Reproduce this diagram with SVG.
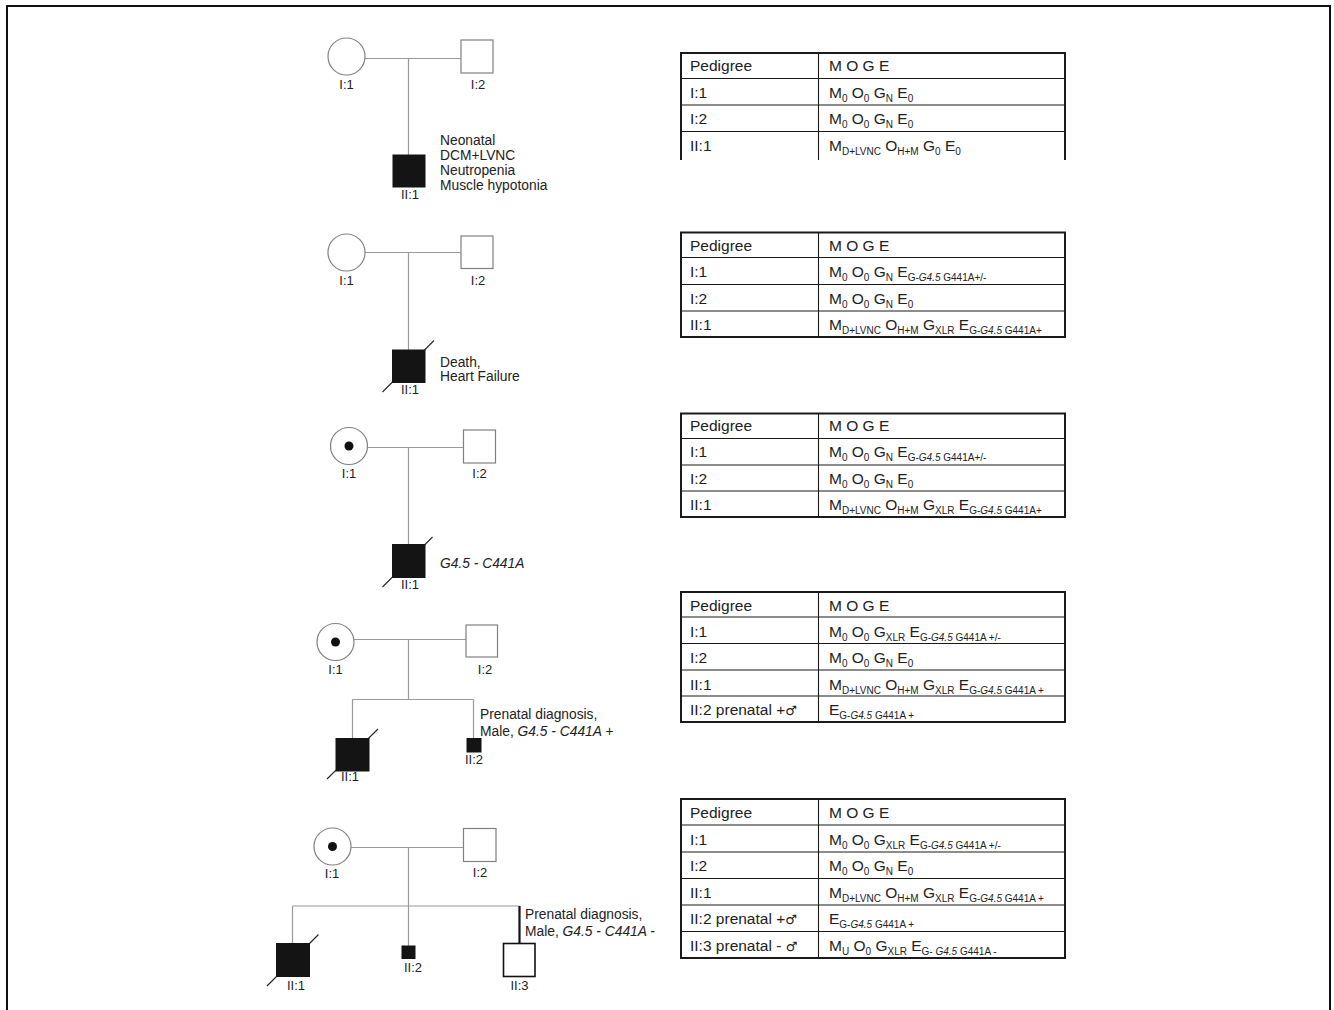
<svg xmlns="http://www.w3.org/2000/svg" width="1334" height="1010" viewBox="0 0 1334 1010">
<style>
text{font-family:"Liberation Sans",Arial,sans-serif;fill:#222}
.lbl{font-size:13px;text-anchor:middle}
.note{font-size:13.8px}
.it{font-style:italic}
.tt{font-size:15.5px}
.s{font-size:10px}
.ln{stroke:#9a9a9a;stroke-width:1.2;fill:none}
.open{fill:#fff;stroke:#808080;stroke-width:1.2}
.aff{fill:#141414;stroke:#141414;stroke-width:1}
.dot{fill:#111}
.sl{stroke:#222;stroke-width:1.1}
.tb{fill:none;stroke:#1a1a1a;stroke-width:2}
.tl{stroke:#1a1a1a;stroke-width:1.1}
.sym{font-family:"DejaVu Sans",sans-serif;font-size:13px}
</style>

<g id="frame">
<path d="M7,1010 V6 H1330 V1010" fill="none" stroke="#111" stroke-width="2"/>
</g>

<g id="connectors">
<path class="ln" d="M365,58.5 H461 M408.5,58.5 V155"/>
<path class="ln" d="M365,252.5 H461 M408.5,252.5 V350"/>
<path class="ln" d="M367.5,447.5 H463.5 M408.5,447.5 V544.5"/>
<path class="ln" d="M354,639.5 H466 M408.5,639.5 V699.5 M352.5,699.5 H473.5 M352.5,699.5 V738.5 M473.5,699.5 V738.5"/>
<path class="ln" d="M351,847.5 H463.5 M408.5,847.5 V906 M292.5,906 H519.5 M292.5,906 V943.5 M408.5,906 V946"/>
<path d="M519.5,906 V943.5" stroke="#111" stroke-width="2.2"/>
</g>

<!-- ===== Pedigree 1 ===== -->
<g id="p1-I1"><circle class="open" cx="346.5" cy="56.5" r="18.5"/><text class="lbl" x="346.5" y="89">I:1</text></g>
<g id="p1-I2"><rect class="open" x="461" y="40" width="32" height="33"/><text class="lbl" x="478" y="89">I:2</text></g>
<g id="p1-II1"><rect class="aff" x="393" y="155" width="32" height="32"/><text class="lbl" x="410" y="199">II:1</text>
<text class="note" x="440" y="145">Neonatal</text>
<text class="note" x="440" y="160">DCM+LVNC</text>
<text class="note" x="440" y="175">Neutropenia</text>
<text class="note" x="440" y="190">Muscle hypotonia</text></g>

<!-- ===== Pedigree 2 ===== -->
<g id="p2-I1"><circle class="open" cx="346.5" cy="252.5" r="18.5"/><text class="lbl" x="346.5" y="284.5">I:1</text></g>
<g id="p2-I2"><rect class="open" x="461" y="236" width="32" height="32.5"/><text class="lbl" x="478" y="284.5">I:2</text></g>
<g id="p2-II1"><line class="sl" x1="382.5" y1="392" x2="434" y2="340.5"/><rect class="aff" x="392.5" y="350" width="32.5" height="32.5"/><text class="lbl" x="410" y="394">II:1</text>
<text class="note" x="440" y="366.5">Death,</text>
<text class="note" x="440" y="380.5">Heart Failure</text></g>

<!-- ===== Pedigree 3 ===== -->
<g id="p3-I1"><circle class="open" cx="349" cy="446" r="18.5"/><circle class="dot" cx="349" cy="446" r="4.5"/><text class="lbl" x="349" y="477.5">I:1</text></g>
<g id="p3-I2"><rect class="open" x="463.5" y="430" width="32" height="33"/><text class="lbl" x="479.5" y="477.5">I:2</text></g>
<g id="p3-II1"><line class="sl" x1="382.5" y1="587" x2="432.5" y2="537"/><rect class="aff" x="392.5" y="544.5" width="32.5" height="33"/><text class="lbl" x="410" y="589">II:1</text>
<text class="note it" x="440" y="568">G4.5 - C441A</text></g>

<!-- ===== Pedigree 4 ===== -->
<g id="p4-I1"><circle class="open" cx="335.5" cy="642" r="18.5"/><circle class="dot" cx="335.5" cy="642" r="4.5"/><text class="lbl" x="335.5" y="674">I:1</text></g>
<g id="p4-I2"><rect class="open" x="466" y="625" width="31.5" height="32"/><text class="lbl" x="485" y="674">I:2</text></g>
<g id="p4-II1"><line class="sl" x1="327" y1="779" x2="378" y2="729"/><rect class="aff" x="336" y="738.5" width="33" height="32.5"/><text class="lbl" x="350" y="781">II:1</text></g>
<g id="p4-II2"><rect class="aff" x="467" y="738.5" width="14" height="13.5"/><text class="lbl" x="474" y="764">II:2</text>
<text class="note" x="480" y="719">Prenatal diagnosis,</text>
<text class="note" x="480" y="736">Male, <tspan class="it">G4.5 - C441A +</tspan></text></g>

<!-- ===== Pedigree 5 ===== -->
<g id="p5-I1"><circle class="open" cx="332.5" cy="846.5" r="18.5"/><circle class="dot" cx="332.5" cy="846.5" r="4.5"/><text class="lbl" x="332" y="877.5">I:1</text></g>
<g id="p5-I2"><rect class="open" x="463.5" y="828.5" width="32.5" height="33"/><text class="lbl" x="480" y="877">I:2</text></g>
<g id="p5-II1"><line class="sl" x1="267" y1="986" x2="318.5" y2="934.5"/><rect class="aff" x="276.5" y="943.5" width="33" height="33"/><text class="lbl" x="296" y="990">II:1</text></g>
<g id="p5-II2"><rect class="aff" x="402" y="946" width="13" height="12.5"/><text class="lbl" x="413" y="971.5">II:2</text></g>
<g id="p5-II3"><rect x="503.5" y="943.5" width="31.5" height="33" fill="#fff" stroke="#111" stroke-width="1.6"/><text class="lbl" x="519.5" y="990">II:3</text>
<text class="note" x="525" y="919">Prenatal diagnosis,</text>
<text class="note" x="525" y="936">Male, <tspan class="it">G4.5 - C441A -</tspan></text></g>

<!-- ===== Table 1 ===== -->
<g id="table1">
<path class="tb" d="M681,160 V53 H1065 V160"/>
<path class="tl" d="M681,78.5 H1065 M681,105 H1065 M681,131.5 H1065 M818.5,53 V160"/>
<text class="tt" x="690" y="71">Pedigree</text><text class="tt" x="829" y="71">M O G E</text>
<text class="tt" x="690" y="97.5">I:1</text>
<text class="tt" x="829" y="97.5">M<tspan class="s" dy="4">0</tspan><tspan dy="-4"> O</tspan><tspan class="s" dy="4">0</tspan><tspan dy="-4"> G</tspan><tspan class="s" dy="4">N</tspan><tspan dy="-4"> E</tspan><tspan class="s" dy="4">0</tspan></text>
<text class="tt" x="690" y="124">I:2</text>
<text class="tt" x="829" y="124">M<tspan class="s" dy="4">0</tspan><tspan dy="-4"> O</tspan><tspan class="s" dy="4">0</tspan><tspan dy="-4"> G</tspan><tspan class="s" dy="4">N</tspan><tspan dy="-4"> E</tspan><tspan class="s" dy="4">0</tspan></text>
<text class="tt" x="690" y="150.5">II:1</text>
<text class="tt" x="829" y="150.5">M<tspan class="s" dy="4">D+LVNC</tspan><tspan dy="-4"> O</tspan><tspan class="s" dy="4">H+M</tspan><tspan dy="-4"> G</tspan><tspan class="s" dy="4">0</tspan><tspan dy="-4"> E</tspan><tspan class="s" dy="4">0</tspan></text>
</g>

<!-- ===== Table 2 ===== -->
<g id="table2">
<rect class="tb" x="681" y="232.5" width="384" height="104.5"/>
<path class="tl" d="M681,257.5 H1065 M681,284.5 H1065 M681,311 H1065 M818.5,232.5 V337"/>
<text class="tt" x="690" y="250.5">Pedigree</text><text class="tt" x="829" y="250.5">M O G E</text>
<text class="tt" x="690" y="277">I:1</text>
<text class="tt" x="829" y="277">M<tspan class="s" dy="4">0</tspan><tspan dy="-4"> O</tspan><tspan class="s" dy="4">0</tspan><tspan dy="-4"> G</tspan><tspan class="s" dy="4">N</tspan><tspan dy="-4"> E</tspan><tspan class="s" dy="4">G-<tspan class="it">G4.5</tspan> G441A+/-</tspan></text>
<text class="tt" x="690" y="303.5">I:2</text>
<text class="tt" x="829" y="303.5">M<tspan class="s" dy="4">0</tspan><tspan dy="-4"> O</tspan><tspan class="s" dy="4">0</tspan><tspan dy="-4"> G</tspan><tspan class="s" dy="4">N</tspan><tspan dy="-4"> E</tspan><tspan class="s" dy="4">0</tspan></text>
<text class="tt" x="690" y="330">II:1</text>
<text class="tt" x="829" y="330">M<tspan class="s" dy="4">D+LVNC</tspan><tspan dy="-4"> O</tspan><tspan class="s" dy="4">H+M</tspan><tspan dy="-4"> G</tspan><tspan class="s" dy="4">XLR</tspan><tspan dy="-4"> E</tspan><tspan class="s" dy="4">G-<tspan class="it">G4.5</tspan> G441A+</tspan></text>
</g>

<!-- ===== Table 3 ===== -->
<g id="table3">
<rect class="tb" x="681" y="413.5" width="384" height="103.5"/>
<path class="tl" d="M681,438.5 H1065 M681,465 H1065 M681,491 H1065 M818.5,413.5 V517"/>
<text class="tt" x="690" y="431">Pedigree</text><text class="tt" x="829" y="431">M O G E</text>
<text class="tt" x="690" y="457">I:1</text>
<text class="tt" x="829" y="457">M<tspan class="s" dy="4">0</tspan><tspan dy="-4"> O</tspan><tspan class="s" dy="4">0</tspan><tspan dy="-4"> G</tspan><tspan class="s" dy="4">N</tspan><tspan dy="-4"> E</tspan><tspan class="s" dy="4">G-<tspan class="it">G4.5</tspan> G441A+/-</tspan></text>
<text class="tt" x="690" y="483.5">I:2</text>
<text class="tt" x="829" y="483.5">M<tspan class="s" dy="4">0</tspan><tspan dy="-4"> O</tspan><tspan class="s" dy="4">0</tspan><tspan dy="-4"> G</tspan><tspan class="s" dy="4">N</tspan><tspan dy="-4"> E</tspan><tspan class="s" dy="4">0</tspan></text>
<text class="tt" x="690" y="510">II:1</text>
<text class="tt" x="829" y="510">M<tspan class="s" dy="4">D+LVNC</tspan><tspan dy="-4"> O</tspan><tspan class="s" dy="4">H+M</tspan><tspan dy="-4"> G</tspan><tspan class="s" dy="4">XLR</tspan><tspan dy="-4"> E</tspan><tspan class="s" dy="4">G-<tspan class="it">G4.5</tspan> G441A+</tspan></text>
</g>

<!-- ===== Table 4 ===== -->
<g id="table4">
<rect class="tb" x="681" y="592" width="384" height="130"/>
<path class="tl" d="M681,617 H1065 M681,643.5 H1065 M681,670 H1065 M681,696 H1065 M818.5,592 V722"/>
<text class="tt" x="690" y="610.5">Pedigree</text><text class="tt" x="829" y="610.5">M O G E</text>
<text class="tt" x="690" y="636.5">I:1</text>
<text class="tt" x="829" y="636.5">M<tspan class="s" dy="4">0</tspan><tspan dy="-4"> O</tspan><tspan class="s" dy="4">0</tspan><tspan dy="-4"> G</tspan><tspan class="s" dy="4">XLR</tspan><tspan dy="-4"> E</tspan><tspan class="s" dy="4">G-<tspan class="it">G4.5</tspan> G441A +/-</tspan></text>
<text class="tt" x="690" y="663">I:2</text>
<text class="tt" x="829" y="663">M<tspan class="s" dy="4">0</tspan><tspan dy="-4"> O</tspan><tspan class="s" dy="4">0</tspan><tspan dy="-4"> G</tspan><tspan class="s" dy="4">N</tspan><tspan dy="-4"> E</tspan><tspan class="s" dy="4">0</tspan></text>
<text class="tt" x="690" y="689.5">II:1</text>
<text class="tt" x="829" y="689.5">M<tspan class="s" dy="4">D+LVNC</tspan><tspan dy="-4"> O</tspan><tspan class="s" dy="4">H+M</tspan><tspan dy="-4"> G</tspan><tspan class="s" dy="4">XLR</tspan><tspan dy="-4"> E</tspan><tspan class="s" dy="4">G-<tspan class="it">G4.5</tspan> G441A +</tspan></text>
<text class="tt" x="690" y="715">II:2 prenatal +<tspan class="sym">♂</tspan></text>
<text class="tt" x="829" y="715">E<tspan class="s" dy="4">G-<tspan class="it">G4.5</tspan> G441A +</tspan></text>
</g>

<!-- ===== Table 5 ===== -->
<g id="table5">
<rect class="tb" x="681" y="799" width="384" height="159"/>
<path class="tl" d="M681,825 H1065 M681,852 H1065 M681,878.5 H1065 M681,905 H1065 M681,931.5 H1065 M818.5,799 V958"/>
<text class="tt" x="690" y="817.5">Pedigree</text><text class="tt" x="829" y="817.5">M O G E</text>
<text class="tt" x="690" y="844.5">I:1</text>
<text class="tt" x="829" y="844.5">M<tspan class="s" dy="4">0</tspan><tspan dy="-4"> O</tspan><tspan class="s" dy="4">0</tspan><tspan dy="-4"> G</tspan><tspan class="s" dy="4">XLR</tspan><tspan dy="-4"> E</tspan><tspan class="s" dy="4">G-<tspan class="it">G4.5</tspan> G441A +/-</tspan></text>
<text class="tt" x="690" y="871">I:2</text>
<text class="tt" x="829" y="871">M<tspan class="s" dy="4">0</tspan><tspan dy="-4"> O</tspan><tspan class="s" dy="4">0</tspan><tspan dy="-4"> G</tspan><tspan class="s" dy="4">N</tspan><tspan dy="-4"> E</tspan><tspan class="s" dy="4">0</tspan></text>
<text class="tt" x="690" y="897.5">II:1</text>
<text class="tt" x="829" y="897.5">M<tspan class="s" dy="4">D+LVNC</tspan><tspan dy="-4"> O</tspan><tspan class="s" dy="4">H+M</tspan><tspan dy="-4"> G</tspan><tspan class="s" dy="4">XLR</tspan><tspan dy="-4"> E</tspan><tspan class="s" dy="4">G-<tspan class="it">G4.5</tspan> G441A +</tspan></text>
<text class="tt" x="690" y="924">II:2 prenatal +<tspan class="sym">♂</tspan></text>
<text class="tt" x="829" y="924">E<tspan class="s" dy="4">G-<tspan class="it">G4.5</tspan> G441A +</tspan></text>
<text class="tt" x="690" y="950.5">II:3 prenatal - <tspan class="sym">♂</tspan></text>
<text class="tt" x="829" y="950.5">M<tspan class="s" dy="4">U</tspan><tspan dy="-4"> O</tspan><tspan class="s" dy="4">0</tspan><tspan dy="-4"> G</tspan><tspan class="s" dy="4">XLR</tspan><tspan dy="-4"> E</tspan><tspan class="s" dy="4">G- <tspan class="it">G4.5</tspan> G441A -</tspan></text>
</g>
</svg>
